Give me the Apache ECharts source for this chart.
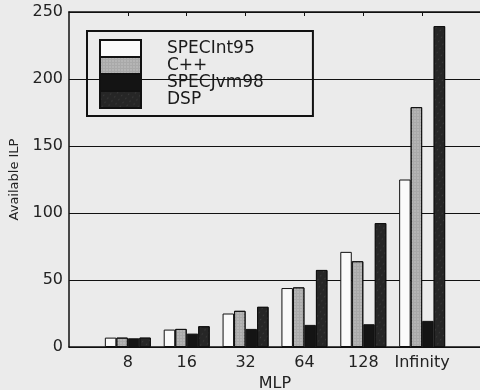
<!DOCTYPE html>
<html>
<head>
<meta charset="utf-8">
<script src="https://cdn.jsdelivr.net/npm/echarts@6/dist/echarts.min.js"></script>
<style>
html, body { margin: 0; padding: 0; background: #ebebeb; }
#main { width: 480px; height: 390px; }
</style>
</head>
<body>
<div id="main"></div>
<script>
// MLP groups along the bottom
var mlp = ['8', '16', '32', '64', '128', 'Infinity'];
// available ILP per benchmark suite
var specInt95 = [7, 13, 25, 44, 71, 125];
var cpp = [7, 13.5, 27, 44.5, 64, 179];
var specJvm98 = [6.5, 10, 13.5, 16.5, 17, 19.5];
var dsp = [7, 15.5, 30, 57.5, 92.5, 239.5];
var yTicks = [0, 50, 100, 150, 200, 250];

// pad one empty slot each side so the groups sit on ticks 1..6
var axisData = [''].concat(mlp, ['']);
function pad(arr) { return ['-'].concat(arr, ['-']); }

var chart = echarts.init(document.getElementById('main'));
var font = 'DejaVu Sans';

function bar(name, data, color, decal) {
  var s = {
    name: name,
    type: 'bar',
    data: pad(data),
    barWidth: 11.5,
    barGap: '0%',
    xAxisIndex: 0,
    itemStyle: { color: color, borderColor: '#111', borderWidth: 1 }
  };
  if (decal) s.itemStyle.decal = decal;
  return s;
}

chart.setOption({
  backgroundColor: '#ebebeb',
  animation: false,
  textStyle: { fontFamily: font, color: '#222' },
  grid: { left: 69, right: -1, top: 12, bottom: 43, outerBoundsMode: 'none', containLabel: false },
  legend: {
    orient: 'vertical',
    left: 87,
    top: 31,
    icon: 'rect',
    itemWidth: 41,
    itemHeight: 17,
    itemGap: -2,
    borderColor: '#111',
    borderWidth: 2,
    padding: [8, 49, 7, 12],
    textStyle: { fontFamily: font, fontSize: 17, color: '#1a1a1a', padding: [0, 0, 0, 21] },
    data: ['SPECInt95', 'C++', 'SPECJvm98', 'DSP']
  },
  xAxis: [{
    type: 'category',
    data: axisData,
    boundaryGap: false,
    name: 'MLP',
    nameLocation: 'middle',
    nameGap: 29,
    nameTextStyle: { fontFamily: font, fontSize: 16, color: '#222' },
    axisLine: { lineStyle: { color: '#111', width: 1.5 } },
    axisTick: { show: false },
    axisLabel: { fontFamily: font, fontSize: 16, color: '#222', margin: 8, interval: 0 }
  }, {
    type: 'category',
    data: axisData,
    boundaryGap: false,
    position: 'top',
    axisLine: { lineStyle: { color: '#111', width: 1.5 } },
    axisTick: { show: true, inside: true, length: 4, interval: function (i, v) { return v !== ''; }, lineStyle: { color: '#111' } },
    axisLabel: { show: false }
  }],
  yAxis: {
    type: 'value',
    min: yTicks[0],
    max: yTicks[yTicks.length - 1],
    interval: 50,
    name: 'Available ILP',
    nameLocation: 'middle',
    nameGap: 48,
    nameTextStyle: { fontFamily: font, fontSize: 13, color: '#222' },
    axisLine: { show: true, lineStyle: { color: '#111', width: 1.5 } },
    axisTick: { show: false },
    axisLabel: { fontFamily: font, fontSize: 16, color: '#222', margin: 6 },
    splitLine: { lineStyle: { color: '#111', width: 1 } }
  },
  series: [
    bar('SPECInt95', specInt95, '#fafafa'),
    bar('C++', cpp, '#a9a9a9', { color: 'rgba(235,235,235,0.55)', symbol: 'circle', symbolSize: 0.7, dashArrayX: [[2, 1]], dashArrayY: [2, 1] }),
    bar('SPECJvm98', specJvm98, '#141414'),
    bar('DSP', dsp, '#262626', { color: 'rgba(110,110,110,0.6)', symbol: 'rect', symbolSize: 0.5, dashArrayX: [[1, 4]], dashArrayY: [3, 2], rotation: 0.6 })
  ]
});
</script>
</body>
</html>
